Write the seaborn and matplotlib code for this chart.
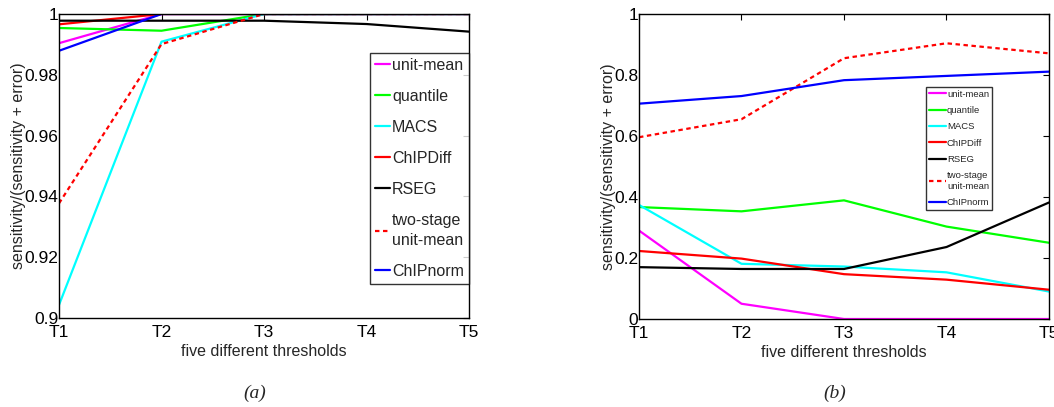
import matplotlib
matplotlib.use("Agg")
import matplotlib.pyplot as plt
import seaborn as sns
import pandas as pd

sns.set_theme(style="white")
plt.rcParams['font.family'] = ['Liberation Sans', 'DejaVu Sans']

thresholds = ["T1", "T2", "T3", "T4", "T5"]
methods = ["unit-mean", "quantile", "MACS", "ChIPDiff", "RSEG",
           "two-stage\nunit-mean", "ChIPnorm"]
colors = ["#FF00FF", "#00FF00", "#00FFFF", "#FF0000", "#000000", "#FF0000", "#0000FF"]

# panel (a)
a_unit_mean = [0.9904, 1.0, 1.0, 1.0, 1.0]
a_quantile = [0.9954, 0.9945, 1.0, 1.0, 1.0]
a_macs = [0.9043, 0.9909, 1.0, 1.0, 1.0]
a_chipdiff = [0.9966, 1.0, 1.0, 1.0, 1.0]
a_rseg = [0.9978, 0.9978, 0.9978, 0.9967, 0.9942]
a_two_stage = [0.9377, 0.9901, 1.0, 1.0, 1.0]
a_chipnorm = [0.9879, 1.0, 1.0, 1.0, 1.0]

# panel (b)
b_unit_mean = [0.290, 0.050, 0.0, 0.0, 0.0]
b_quantile = [0.367, 0.353, 0.389, 0.303, 0.250]
b_macs = [0.374, 0.181, 0.172, 0.153, 0.090]
b_chipdiff = [0.223, 0.198, 0.147, 0.129, 0.096]
b_rseg = [0.170, 0.164, 0.164, 0.236, 0.382]
b_two_stage = [0.596, 0.655, 0.855, 0.904, 0.871]
b_chipnorm = [0.706, 0.731, 0.783, 0.797, 0.811]

a_series = [a_unit_mean, a_quantile, a_macs, a_chipdiff, a_rseg, a_two_stage, a_chipnorm]
b_series = [b_unit_mean, b_quantile, b_macs, b_chipdiff, b_rseg, b_two_stage, b_chipnorm]

a_yticks = [0.9, 0.92, 0.94, 0.96, 0.98, 1]
a_yticklabels = ["0.9", "0.92", "0.94", "0.96", "0.98", "1"]
b_yticks = [0, 0.2, 0.4, 0.6, 0.8, 1]
b_yticklabels = ["0", "0.2", "0.4", "0.6", "0.8", "1"]

fig = plt.figure(figsize=(10.54, 4.07), dpi=100)
ax1 = fig.add_axes([59/1054, 89/407, 410/1054, 304/407])
ax2 = fig.add_axes([639/1054, 88/407, 410/1054, 305/407])


def draw(ax, series, ylim, yticks, yticklabels, legend_anchor, legend_size,
         spacing, hlen, lsp):
    xpos = list(range(1, len(thresholds) + 1))
    for name, vals, col in zip(methods, series, colors):
        df = pd.DataFrame({"x": xpos, "y": vals})
        ls = (0, (2.0, 1.6)) if name.startswith("two") else "-"
        sns.lineplot(data=df, x="x", y="y", ax=ax, color=col, linewidth=1.6,
                     linestyle=ls, label=name)
    ax.set_xlim(1, 5)
    ax.set_ylim(*ylim)
    ax.set_xticks(xpos)
    ax.set_xticklabels(thresholds)
    ax.set_yticks(yticks)
    ax.set_yticklabels(yticklabels)
    ax.tick_params(direction="in", top=True, right=True, length=4, width=0.8,
                   labelsize=12.5, colors="black", pad=0.5)
    ax.tick_params(axis="x", pad=5)
    for s in ax.spines.values():
        s.set_color("black")
        s.set_linewidth(1.0)
    ax.set_xlabel("five different thresholds", fontsize=11.5, labelpad=3)
    ax.set_ylabel("sensitivity/(sensitivity + error)", fontsize=11.5, labelpad=-1)
    leg = ax.legend(loc="upper left", bbox_to_anchor=legend_anchor, frameon=True,
                    fancybox=False, edgecolor="black", fontsize=legend_size,
                    handlelength=hlen, handletextpad=0.12, borderpad=0.3,
                    labelspacing=spacing, borderaxespad=0)
    leg.get_frame().set_linewidth(1.0)
    for t in leg.get_texts():
        t.set_linespacing(lsp)
    ax.set_facecolor("white")


draw(ax1, a_series, (0.9, 1.0), a_yticks, a_yticklabels, (0.759, 0.872), 11.5,
     1.0, 0.95, 1.45)
draw(ax2, b_series, (0.0, 1.0), b_yticks, b_yticklabels, (0.70, 0.761), 6.8,
     0.77, 1.8, 1.3)

fig.text(255/1054, 1 - 393/407, "(a)", ha="center", va="center",
         fontsize=14, style="italic", family="Liberation Serif")
fig.text(835/1054, 1 - 393/407, "(b)", ha="center", va="center",
         fontsize=14, style="italic", family="Liberation Serif")

fig.savefig("out.png", dpi=100)
